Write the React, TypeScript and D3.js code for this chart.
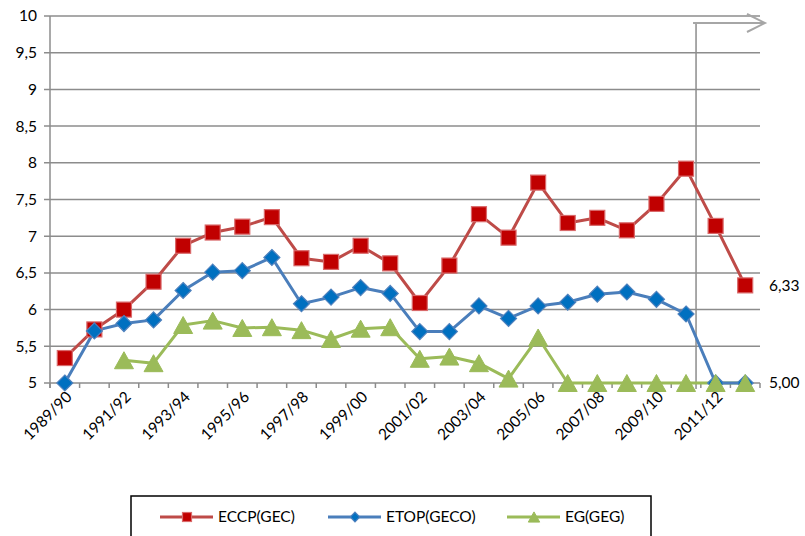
import React from "react";
import * as d3 from "d3";

const categories = [
  "1989/90", "1990/91", "1991/92", "1992/93", "1993/94", "1994/95", "1995/96", "1996/97",
  "1997/98", "1998/99", "1999/00", "2000/01", "2001/02", "2002/03", "2003/04", "2004/05",
  "2005/06", "2006/07", "2007/08", "2008/09", "2009/10", "2010/11", "2011/12", "2012/13",
];
const eccp: (number | null)[] = [
  5.34, 5.73, 6.0, 6.38, 6.87, 7.05, 7.13, 7.26, 6.7, 6.65, 6.87, 6.63,
  6.09, 6.6, 7.3, 6.98, 7.73, 7.18, 7.25, 7.08, 7.44, 7.92, 7.14, 6.33,
];
const etop: (number | null)[] = [
  5.0, 5.71, 5.81, 5.86, 6.26, 6.51, 6.53, 6.71, 6.08, 6.17, 6.3, 6.22,
  5.7, 5.7, 6.05, 5.88, 6.05, 6.1, 6.21, 6.24, 6.14, 5.94, 5.0, 5.0,
];
const eg: (number | null)[] = [
  null, null, 5.31, 5.27, 5.79, 5.85, 5.75, 5.76, 5.72, 5.6, 5.74, 5.76,
  5.33, 5.36, 5.27, 5.06, 5.62, 5.0, 5.0, 5.0, 5.0, 5.0, 5.0, 5.0,
];
const yTicks = [5, 5.5, 6, 6.5, 7, 7.5, 8, 8.5, 9, 9.5, 10];
const xLabels = ["1989/90", "1991/92", "1993/94", "1995/96", "1997/98", "1999/00", "2001/02", "2003/04", "2005/06", "2007/08", "2009/10", "2011/12"];
const endLabels = [
  { value: 6.33, text: "6,33" },
  { value: 5.0, text: "5,00" },
];
const seriesNames = ["ECCP(GEC)", "ETOP(GECO)", "EG(GEG)"];

const W = 805, H = 536;
const L = 50, R = 760, T = 16, B = 383;
const FONT = "Lato, 'Open Sans', sans-serif";
const FS = 15.5;
const GRID = "#8c8c8c";

const fmt = (v: number) => d3.format("")(v).replace(".", ",");

function Marker({ kind, x, y, s = 1 }: { kind: string; x: number; y: number; s?: number }) {
  if (kind === "square") {
    const h = 7.5 * s;
    return <rect x={x - h} y={y - h} width={2 * h} height={2 * h} fill="#C00000" stroke="#D9696A" strokeWidth={1.2} />;
  }
  if (kind === "diamond") {
    const h = 8 * s;
    return <path d={`M${x},${y - h}L${x + h},${y}L${x},${y + h}L${x - h},${y}Z`} fill="#0070C0" stroke="#4F81BD" strokeWidth={1.2} />;
  }
  const w = 9.5 * s, h = 8.5 * s;
  return <path d={`M${x},${y - h}L${x + w},${y + h}L${x - w},${y + h}Z`} fill="#9BBB59" stroke="#9BBB59" strokeWidth={1} />;
}

export default function App() {
  const x = d3.scaleBand<string>().domain(categories).range([L, R]);
  const cx = (c: string) => (x(c) as number) + x.bandwidth() / 2;
  const y = d3.scaleLinear().domain([5, 10]).range([B, T]);

  const series = [
    { name: seriesNames[0], data: eccp, color: "#BE4B48", kind: "square" },
    { name: seriesNames[1], data: etop, color: "#4A7EBB", kind: "diamond" },
    { name: seriesNames[2], data: eg, color: "#9BBB59", kind: "triangle" },
  ];

  const line = d3
    .line<number | null>()
    .defined((d) => d != null)
    .x((_, i) => cx(categories[i]))
    .y((d) => y(d as number));

  const lineOrder = [0, 2, 1];
  const vx = cx("2010/11") + 10;
  const vTop = T + 7;

  const ticksX = d3.range(categories.length + 1).map((i) => L + i * x.step());

  return (
    <svg width={W} height={H} style={{ position: "absolute", left: 0, top: 0 }}>
      <rect width={W} height={H} fill="#fff" />
      {yTicks.map((t) => (
        <g key={t}>
          <line x1={L - 6} x2={R} y1={y(t)} y2={y(t)} stroke={GRID} strokeWidth={1.5} />
          <text x={37} y={y(t)} dy="0.35em" textAnchor="end" fontFamily={FONT} fontSize={FS} fill="#000">
            {fmt(t)}
          </text>
        </g>
      ))}
      <line x1={L} x2={L} y1={T} y2={B + 5} stroke={GRID} strokeWidth={1.5} />
      {ticksX.map((tx, i) => (
        <line key={i} x1={tx} x2={tx} y1={B} y2={B + 5} stroke={GRID} strokeWidth={1.5} />
      ))}
      {xLabels.map((c) => (
        <text
          key={c}
          transform={`translate(${cx(c) + 8},${B + 15}) rotate(-45)`}
          textAnchor="end"
          fontFamily={FONT}
          fontSize={FS}
          fill="#000"
        >
          {c}
        </text>
      ))}
      {/* projection marker */}
      <line x1={vx} x2={vx} y1={vTop} y2={B + 6} stroke="#8c8c8c" strokeWidth={1.5} />
      <line x1={vx - 3} x2={765} y1={vTop} y2={vTop} stroke="#a6a6a6" strokeWidth={2} />
      <path d={`M747,${vTop - 9}L765,${vTop}L747,${vTop + 9}`} fill="none" stroke="#a6a6a6" strokeWidth={2} />

      {lineOrder.map((k) => (
        <path key={k} d={line(series[k].data) || ""} fill="none" stroke={series[k].color} strokeWidth={3} strokeLinejoin="round" />
      ))}
      {series.map((s) => (
        <g key={s.name}>
          {s.data.map((d, i) =>
            d == null ? null : <Marker key={i} kind={s.kind} x={cx(categories[i])} y={y(d)} />
          )}
        </g>
      ))}
      {endLabels.map((e) => (
        <text key={e.text} x={769} y={y(e.value)} dy="0.35em" fontFamily={FONT} fontSize={FS} fill="#000">
          {e.text}
        </text>
      ))}

      {/* legend */}
      <rect x={131} y={496} width={520} height={60} fill="#fff" stroke="#000" strokeWidth={1.5} />
      {series.map((s, i) => {
        const lx = [160, 328, 507][i];
        return (
          <g key={s.name}>
            <line x1={lx} x2={lx + 53} y1={517} y2={517} stroke={s.color} strokeWidth={3} />
            <Marker kind={s.kind} x={lx + 27} y={517} s={0.6} />
            <text x={lx + 58} y={517} dy="0.35em" fontFamily={FONT} fontSize={FS} fill="#000">
              {s.name}
            </text>
          </g>
        );
      })}
    </svg>
  );
}
